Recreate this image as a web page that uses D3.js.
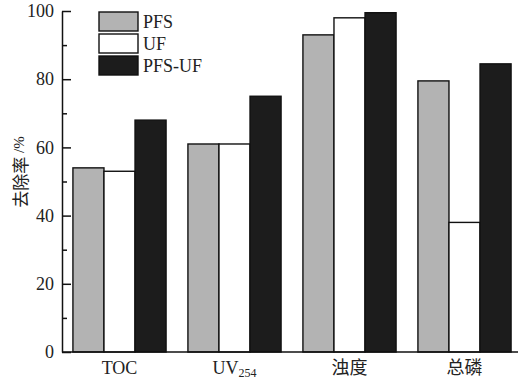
<!DOCTYPE html>
<html>
<head>
<meta charset="utf-8">
<script src="https://cdn.jsdelivr.net/npm/d3@7"></script>
<style>
  html, body { margin: 0; padding: 0; background: #fff; }
  svg { display: block; }
</style>
</head>
<body>
<svg id="chart" width="518" height="382"></svg>
<script>
// Removal rate (%) by indicator and treatment process
const categories = ["TOC", "UV254", "浊度", "总磷"];
const seriesNames = ["PFS", "UF", "PFS-UF"];
const pfsValues = [54, 61, 93, 79.5];
const ufValues = [53, 61, 98, 38];
const pfsUfValues = [68, 75, 99.5, 84.5];
const yTicks = [0, 20, 40, 60, 80, 100];
const yMinorTicks = [10, 30, 50, 70, 90];

const seriesValues = [pfsValues, ufValues, pfsUfValues];
const fills = ["#b3b3b3", "#ffffff", "#1c1c1c"];

const svg = d3.select("#chart");
const serif = "'Liberation Serif', 'DejaVu Serif', serif";
const cjk = "'Noto Sans CJK SC', sans-serif";

const x0 = d3.scaleBand().domain(categories).range([62, 522]).paddingInner(0.19).paddingOuter(0.095);
const x1 = d3.scaleBand().domain(seriesNames).range([0, x0.bandwidth()]);
const y = d3.scaleLinear().domain([0, 100]).range([352, 11]);

// bars
const groups = svg.append("g").selectAll("g")
  .data(categories)
  .join("g")
  .attr("transform", d => `translate(${x0(d)},0)`);

groups.selectAll("rect")
  .data((c, ci) => seriesNames.map((s, si) => ({ s, si, v: seriesValues[si][ci] })))
  .join("rect")
  .attr("x", d => x1(d.s))
  .attr("width", x1.bandwidth())
  .attr("y", d => y(d.v))
  .attr("height", d => y(0) - y(d.v))
  .attr("fill", d => fills[d.si])
  .attr("stroke", "#111")
  .attr("stroke-width", 1.4);

// y axis with inward ticks
const yAxis = d3.axisLeft(y).tickValues(yTicks).tickSizeInner(-9).tickSizeOuter(0).tickPadding(8);
const gy = svg.append("g").attr("transform", "translate(62,0)").call(yAxis);
gy.select(".domain").attr("stroke", "#111").attr("stroke-width", 1.5);
gy.selectAll(".tick line").attr("stroke", "#111").attr("stroke-width", 1.5);
gy.selectAll(".tick text").attr("font-family", serif).attr("font-size", 18).attr("fill", "#222");

const gyMinor = d3.axisLeft(y).tickValues(yMinorTicks).tickSizeInner(-5).tickSizeOuter(0).tickFormat("");
const gm = svg.append("g").attr("transform", "translate(62,0)").call(gyMinor);
gm.select(".domain").remove();
gm.selectAll(".tick line").attr("stroke", "#111").attr("stroke-width", 1.5);

// x baseline and labels
const xAxis = d3.axisBottom(x0).tickSize(0).tickPadding(9).tickSizeOuter(0);
const gx = svg.append("g").attr("transform", `translate(0,${y(0)})`).call(xAxis);
gx.select(".domain").attr("stroke", "#111").attr("stroke-width", 1.5).attr("d", "M62,0H518");
gx.selectAll(".tick text")
  .attr("font-size", 18)
  .attr("fill", "#222")
  .attr("font-family", d => /[\u4e00-\u9fff]/.test(d) ? cjk : serif)
  .each(function(d) {
    if (d === "UV254") {
      const t = d3.select(this).text(null);
      t.append("tspan").text("UV");
      t.append("tspan").attr("font-size", 12).attr("dy", "0.25em").text("254");
    }
  });

// y axis title
const yTitle = svg.append("text")
  .attr("transform", "translate(19,172) rotate(-90)")
  .attr("text-anchor", "middle")
  .attr("dominant-baseline", "central")
  .attr("fill", "#222");
yTitle.append("tspan").attr("font-family", cjk).attr("font-size", 17).text("去除率 ");
yTitle.append("tspan").attr("font-family", serif).attr("font-size", 15).text("/%");

// legend
const legend = svg.append("g").attr("transform", "translate(99,12)");
const lg = legend.selectAll("g").data(seriesNames).join("g")
  .attr("transform", (d, i) => `translate(0,${i * 22})`);
lg.append("rect")
  .attr("width", 39).attr("height", 19)
  .attr("fill", (d, i) => fills[i])
  .attr("stroke", "#111").attr("stroke-width", 1.4);
lg.append("text")
  .attr("x", 44).attr("y", 10)
  .attr("dominant-baseline", "central")
  .attr("font-family", serif).attr("font-size", 18).attr("fill", "#222")
  .text(d => d);
</script>
</body>
</html>
